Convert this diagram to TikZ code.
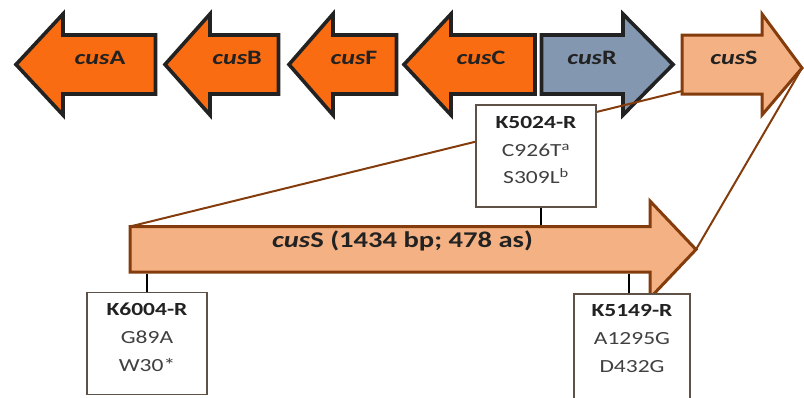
\documentclass[tikz,border=0pt]{standalone}
\usepackage{fontspec}
\setmainfont{Carlito}[FakeStretch=1.27]
\definecolor{orng}{HTML}{F96C12}
\definecolor{bgray}{HTML}{8497B0}
\definecolor{peach}{HTML}{F4B183}
\definecolor{brwn}{HTML}{843C0C}
\definecolor{dark}{HTML}{222222}
\definecolor{boxline}{HTML}{5E5248}
\definecolor{txtgray}{HTML}{404040}
\tikzset{
  orgarrow/.style={fill=orng, draw=dark, line width=3.6pt, line join=miter},
  bluearrow/.style={fill=bgray, draw=dark, line width=3.6pt, line join=miter},
  peacharrow/.style={fill=peach, draw=brwn, line width=3pt, line join=miter},
  genelabel/.style={font=\fontsize{20.5}{22}\selectfont\bfseries, text=dark, inner sep=0pt},
  biglabel/.style={font=\fontsize{22.5}{24}\selectfont\bfseries, text=dark, inner sep=0pt},
  mutbox/.style={draw=boxline, line width=1.2pt, fill=white, minimum width=120pt, minimum height=102pt, inner sep=0pt},
  boxtext/.style={font=\fontsize{18.5}{28}\selectfont, text=txtgray, inner sep=0pt},
  boxtitle/.style={font=\fontsize{18.5}{28}\selectfont\bfseries, text=dark, inner sep=0pt},
  tick/.style={draw=black, line width=2pt},
  zoomline/.style={draw=brwn, line width=2pt}
}
\newcommand{\cus}[1]{\textit{cus}#1}
\begin{document}
\begin{tikzpicture}[x=1pt,y=-1pt]
\useasboundingbox (0,0) rectangle (804,397);
% ---- connector end points ----
\coordinate (sBL) at (682,91);
\coordinate (sTip) at (802,68);
\coordinate (bigTL) at (130,226.5);
\coordinate (bigTip) at (696,249.5);
% ---- top arrows ----
\def\ht{14}\def\hb{115}\def\bt{35}\def\bb{94}\def\cy{64.5}
\draw[orgarrow] (16,\cy) -- (63,\ht) -- (63,\bt) -- (155.5,\bt) -- (155.5,\bb) -- (63,\bb) -- (63,\hb) -- cycle;
\draw[orgarrow] (165,\cy) -- (210,\ht) -- (210,\bt) -- (278.5,\bt) -- (278.5,\bb) -- (210,\bb) -- (210,\hb) -- cycle;
\draw[orgarrow] (289,\cy) -- (333,\ht) -- (333,\bt) -- (396.5,\bt) -- (396.5,\bb) -- (333,\bb) -- (333,\hb) -- cycle;
\draw[orgarrow] (404,\cy) -- (451,\ht) -- (451,\bt) -- (535,\bt) -- (535,\bb) -- (451,\bb) -- (451,\hb) -- cycle;
\draw[bluearrow] (541.5,\bt) -- (623,\bt) -- (623,\ht) -- (673,\cy) -- (623,\hb) -- (623,\bb) -- (541.5,\bb) -- cycle;
\draw[peacharrow] (682,\bt) -- (762,\bt) -- (762,\ht) -- (sTip) -- (762,\hb) -- (762,\bb) -- (682,\bb) -- cycle;
\node[genelabel] (lA) at (100,\cy) {\cus{A}};
\node[genelabel] (lB) at (237,\cy) {\cus{B}};
\node[genelabel] (lF) at (354,\cy) {\cus{F}};
\node[genelabel] (lC) at (481,\cy) {\cus{C}};
\node[genelabel] (lR) at (592,\cy) {\cus{R}};
\node[genelabel] (lS) at (734,\cy) {\cus{S}};
% zoom lines
\draw[zoomline] (bigTL) -- (sBL);
\draw[zoomline] (bigTip) -- (sTip);
% ---- big arrow ----
\draw[peacharrow] (130,226.5) -- (650,226.5) -- (650,201) -- (bigTip) -- (650,298) -- (650,272) -- (130,272) -- cycle;
\node[biglabel] (big) at (402.5,249.5) {\cus{S} (1434 bp; 478 as)};
% ---- mutation boxes ----
\node[mutbox] (b1) at (147,343.5) {};
\node[boxtitle] at (147,316) {K6004-R};
\node[boxtext] at (147,344) {G89A};
\node[boxtext] at (147,372) {W30*};
\node[mutbox] (b2) at (536,156) {};
\node[boxtitle] at (536,129) {K5024-R};
\node[boxtext] at (536,157) {C926T\textsuperscript{a}};
\node[boxtext] at (536,184) {S309L\textsuperscript{b}};
\node[mutbox, minimum width=116pt, minimum height=110pt] (b3) at (632,349) {};
\node[boxtitle] at (632,317) {K5149-R};
\node[boxtext] at (632,345) {A1295G};
\node[boxtext] at (632,373) {D432G};
% ticks
\coordinate (t1) at (147,273.5);
\coordinate (t2) at (541,225);
\coordinate (t3) at (629,273.5);
\draw[tick] (t1) -- (t1 |- b1.north);
\draw[tick] (b2.south -| t2) -- (t2);
\draw[tick] (t3) -- (t3 |- b3.north);
\end{tikzpicture}
\end{document}
